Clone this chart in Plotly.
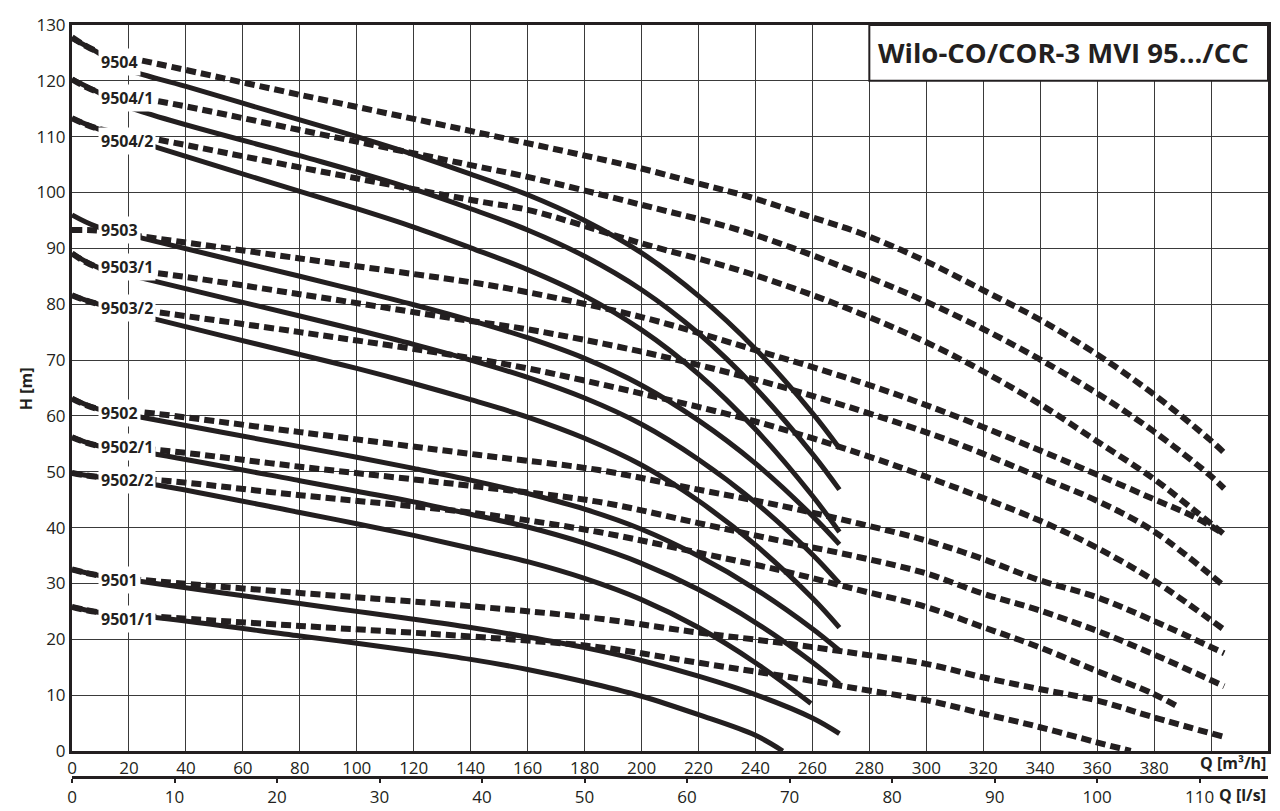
import plotly.graph_objects as go

# ---------------- data ----------------
MODELS = ["9504", "9504/1", "9504/2", "9503", "9503/1", "9503/2",
          "9502", "9502/1", "9502/2", "9501", "9501/1"]

# solid curves (Q in m3/h, H in m)
QS_9504 = [0, 8.7, 17, 40, 80, 100, 120, 140, 160, 180, 200, 220, 240, 260, 269.5]
HS_9504 = [127.6, 125.2, 122.5, 119.0, 113.0, 110.0, 106.8, 103.3, 99.6, 95.0, 89.2, 81.5, 72.0, 60.5, 54.2]
QS_9504_1 = [0, 8.7, 20.4, 80, 100, 120, 140, 160, 180, 200, 220, 240, 260, 269.5]
HS_9504_1 = [120.3, 118.1, 115.2, 106.6, 103.7, 100.6, 97.1, 93.3, 88.6, 82.6, 74.8, 65.0, 53.2, 46.8]
QS_9504_2 = [0, 8.7, 30.9, 80, 100, 120, 140, 160, 180, 200, 220, 240, 260, 269.5]
HS_9504_2 = [113.3, 111.5, 107.9, 100.2, 97.1, 93.8, 90.1, 86.2, 81.5, 75.4, 67.5, 57.6, 45.7, 39.2]
QS_9503 = [0, 8.7, 25, 80, 100, 120, 140, 160, 180, 200, 220, 240, 260, 269.5]
HS_9503 = [96.0, 93.9, 91.8, 85.0, 82.5, 79.9, 77.1, 74.0, 70.3, 65.5, 59.2, 51.5, 42.1, 37.0]
QS_9503_1 = [0, 8.7, 22.7, 80, 100, 120, 140, 160, 180, 200, 220, 240, 260, 269.5]
HS_9503_1 = [89.1, 86.7, 84.9, 77.9, 75.4, 72.8, 70.0, 66.9, 63.2, 58.5, 52.2, 44.5, 35.2, 30.0]
QS_9503_2 = [0, 8.7, 23.9, 80, 100, 120, 140, 160, 180, 200, 220, 240, 260, 269.5]
HS_9503_2 = [81.6, 80.1, 78.0, 71.0, 68.5, 65.8, 62.9, 59.8, 56.0, 51.2, 44.8, 36.9, 27.4, 22.1]
QS_9502 = [0, 8.7, 23.9, 80, 100, 120, 140, 160, 180, 200, 220, 240, 260, 269.5]
HS_9502 = [63.1, 61.3, 59.8, 54.5, 52.6, 50.6, 48.5, 46.1, 43.3, 39.7, 34.9, 29.0, 21.9, 18.0]
QS_9502_1 = [0, 8.7, 27.4, 80, 100, 120, 140, 160, 180, 200, 220, 240, 260, 269.5]
HS_9502_1 = [56.2, 54.7, 53.3, 48.4, 46.5, 44.6, 42.4, 40.1, 37.2, 33.6, 28.9, 23.0, 15.9, 12.0]
QS_9502_2 = [0, 8.7, 30.3, 80, 100, 120, 140, 160, 180, 200, 220, 240, 259.5]
HS_9502_2 = [49.8, 49.1, 47.6, 42.7, 40.7, 38.6, 36.3, 33.9, 30.9, 27.1, 22.1, 15.8, 8.5]
QS_9501 = [0, 8.7, 25, 80, 100, 120, 140, 160, 180, 200, 220, 240, 260, 269.5]
HS_9501 = [32.5, 31.5, 30.3, 26.4, 25.0, 23.6, 22.1, 20.4, 18.5, 16.2, 13.4, 10.1, 5.9, 3.1]
QS_9501_1 = [0, 8.7, 30.9, 80, 100, 120, 140, 160, 180, 200, 220, 240, 249.6]
HS_9501_1 = [25.8, 24.9, 23.8, 20.6, 19.3, 17.9, 16.4, 14.6, 12.4, 9.8, 6.5, 2.8, 0.0]

# dashed curves
QD_9504 = [0, 8.7, 24, 80, 142, 200, 220, 238, 259, 277, 299, 320, 340, 360, 379, 399, 404.6]
HD_9504 = [127.8, 125.3, 123.7, 117.5, 110.8, 104.3, 101.6, 99.2, 95.7, 92.7, 87.9, 82.5, 77.2, 71.0, 64.2, 56.0, 53.4]
QD_9504_1 = [0, 8.7, 30.9, 80, 143, 160, 200, 238, 276.5, 299.3, 319.8, 339.6, 359.5, 379.4, 399.3, 404.6]
HD_9504_1 = [120.3, 118.1, 116.3, 111.2, 104.6, 102.8, 97.8, 92.7, 85.5, 80.6, 75.6, 70.2, 64.2, 57.4, 49.5, 47.0]
QD_9504_2 = [0, 8.7, 30.9, 80, 143, 160, 200, 238, 276.5, 308, 339.6, 359.5, 379.4, 394.6, 404.6]
HD_9504_2 = [113.3, 111.5, 109.4, 104.5, 98.4, 96.9, 90.9, 85.5, 78.4, 71.2, 62.2, 55.6, 48.9, 42.9, 38.8]
QD_9503 = [0, 8.7, 25, 80, 143, 159.5, 200, 238, 276.5, 308, 340, 359.5, 379.4, 394.6, 404.6]
HD_9503 = [93.3, 93.2, 92.1, 88.2, 83.7, 82.2, 77.7, 72.1, 66.1, 60.4, 53.8, 49.6, 45.2, 41.8, 38.8]
QD_9503_1 = [0, 8.7, 30.9, 80, 136, 160, 200, 240, 276.5, 308, 339.6, 359.5, 379.4, 404.6]
HD_9503_1 = [89.1, 86.7, 85.5, 81.8, 77.3, 75.5, 71.5, 66.5, 61.0, 55.6, 49.1, 44.9, 39.5, 29.5]
QD_9503_2 = [0, 8.7, 29.7, 80, 136, 160, 200, 240, 276.5, 308, 339.6, 359.5, 380, 404.6]
HD_9503_2 = [81.6, 80.1, 78.6, 75.0, 70.7, 68.5, 64.0, 59.0, 53.3, 47.6, 41.3, 36.5, 30.5, 21.7]
QD_9502 = [0, 8.7, 23.9, 80, 143, 185, 220, 250, 276.5, 299.9, 319.8, 339.6, 359.5, 379.4, 404.6]
HD_9502 = [63.1, 61.3, 60.7, 57.1, 53.0, 50.3, 46.8, 43.8, 40.7, 37.7, 34.4, 30.6, 27.6, 23.4, 17.5]
QD_9502_1 = [0, 8.7, 30.3, 80, 143, 185, 220, 250, 276.5, 299.9, 319.8, 339.6, 359.5, 379.4, 404.6]
HD_9502_1 = [56.2, 54.7, 53.9, 50.9, 47.3, 44.6, 40.8, 37.5, 34.7, 31.8, 28.2, 25.2, 21.6, 17.4, 11.6]
QD_9502_2 = [0, 8.7, 30.3, 80, 143, 185, 220, 250, 276.5, 299.9, 319.8, 339.6, 359.5, 379.4, 388.8]
HD_9502_2 = [49.8, 49.1, 48.5, 45.8, 42.5, 39.2, 35.5, 32.2, 28.8, 25.8, 22.2, 18.6, 14.4, 10.3, 7.8]
QD_9501 = [0, 8.7, 25, 80, 143, 185, 220, 250, 276.5, 299.9, 319.8, 339.6, 359.5, 379.4, 404.6]
HD_9501 = [32.5, 31.5, 30.6, 28.3, 25.8, 23.7, 21.2, 19.3, 17.4, 15.6, 13.2, 11.1, 9.1, 6.1, 2.5]
QD_9501_1 = [0, 8.7, 30.9, 80, 143, 185, 220, 250, 276.5, 299.9, 319.8, 339.6, 359.5, 371.8]
HD_9501_1 = [25.8, 24.9, 24.0, 22.4, 20.4, 18.6, 15.8, 13.4, 11.1, 9.1, 6.7, 4.3, 1.6, 0.0]

# head level at which each curve label sits
LABEL_H = [123.4, 116.9, 109.2, 93.3, 86.6, 79.4, 60.5, 54.4, 48.5, 30.7, 23.7]
LABEL_Q = 9.3

Q_TICKS = list(range(0, 401, 20))
LS_TICKS = list(range(0, 111, 10))
H_TICKS = list(range(0, 131, 10))
TITLE = "Wilo-CO/COR-3 MVI 95.../CC"

SOLID = [(QS_9504, HS_9504), (QS_9504_1, HS_9504_1), (QS_9504_2, HS_9504_2),
         (QS_9503, HS_9503), (QS_9503_1, HS_9503_1), (QS_9503_2, HS_9503_2),
         (QS_9502, HS_9502), (QS_9502_1, HS_9502_1), (QS_9502_2, HS_9502_2),
         (QS_9501, HS_9501), (QS_9501_1, HS_9501_1)]
DASHED = [(QD_9504, HD_9504), (QD_9504_1, HD_9504_1), (QD_9504_2, HD_9504_2),
          (QD_9503, HD_9503), (QD_9503_1, HD_9503_1), (QD_9503_2, HD_9503_2),
          (QD_9502, HD_9502), (QD_9502_1, HD_9502_1), (QD_9502_2, HD_9502_2),
          (QD_9501, HD_9501), (QD_9501_1, HD_9501_1)]

# ---------------- figure ----------------
INK = "#231f20"
GRID = "#3a3a3a"
FONT = "Open Sans"

fig = go.Figure()
for name, (q, h) in zip(MODELS, DASHED):
    fig.add_trace(go.Scatter(x=q, y=h, mode="lines", name=name + " (dashed)",
                             line=dict(color=INK, width=6, dash="10px,5px",
                                       shape="spline", smoothing=1.0),
                             showlegend=False, hoverinfo="skip"))
for name, (q, h) in zip(MODELS, SOLID):
    fig.add_trace(go.Scatter(x=q, y=h, mode="lines", name=name,
                             line=dict(color=INK, width=5,
                                       shape="spline", smoothing=1.0),
                             showlegend=False, hoverinfo="skip"))

# invisible trace on the l/s axis so it is drawn
fig.add_trace(go.Scatter(x=[0, 420 / 3.6], y=[None, None], xaxis="x2", yaxis="y",
                         mode="lines", showlegend=False, hoverinfo="skip"))

for name, hy in zip(MODELS, LABEL_H):
    fig.add_annotation(x=LABEL_Q, y=hy, xref="x", yref="y", text="<b>%s</b>" % name,
                       showarrow=False, xanchor="left", yanchor="middle",
                       bgcolor="white", borderpad=2,
                       font=dict(family=FONT, size=16, color=INK))

# title box
fig.add_shape(type="rect", xref="x", yref="y", x0=280, x1=420, y0=120, y1=130,
              fillcolor="white", line=dict(color=INK, width=2), layer="above")
fig.add_annotation(x=282.5, y=125, xref="x", yref="y", text="<b>%s</b>" % TITLE,
                   showarrow=False, xanchor="left", yanchor="middle",
                   font=dict(family=FONT, size=27.5, color=INK))

# axis captions
fig.add_annotation(x=-0.0385, y=0.517, xref="paper", yref="paper", text="<b>H [m]</b>",
                   textangle=-90, showarrow=False, xanchor="center", yanchor="middle",
                   font=dict(family=FONT, size=16, color=INK))
fig.add_annotation(x=1.0, y=0.0186, xref="paper", yref="paper", text="<b>Q [m³/h]</b>",
                   showarrow=False, xanchor="right", yanchor="middle",
                   font=dict(family=FONT, size=16, color=INK))
fig.add_annotation(x=1.0, y=-0.024, xref="paper", yref="paper", text="<b>Q [l/s]</b>",
                   showarrow=False, xanchor="right", yanchor="middle",
                   font=dict(family=FONT, size=16, color=INK))

# page body has an 8px margin, so the figure is offset by 8px in the window
fig.update_layout(
    width=1264, height=803,
    margin=dict(l=64, r=4, t=17, b=34, autoexpand=False),
    paper_bgcolor="white", plot_bgcolor="white",
    font=dict(family=FONT, size=17, color=INK),
    xaxis=dict(range=[0, 420], tickvals=Q_TICKS,
               ticktext=[str(v) if v < 400 else "" for v in Q_TICKS],
               showgrid=True, gridcolor=GRID, gridwidth=1.2, zeroline=False,
               showline=True, linecolor=INK, linewidth=3, mirror=True,
               ticks="", anchor="y", tickfont=dict(size=17), automargin=False),
    xaxis2=dict(range=[0, 420 / 3.6], tickvals=LS_TICKS, overlaying="x",
                anchor="free", position=0, side="bottom", showgrid=False,
                zeroline=False, showline=True, linecolor=INK, linewidth=2.5,
                ticks="outside", ticklen=4, tickwidth=2, tickcolor=INK,
                tickfont=dict(size=17), automargin=False),
    yaxis=dict(range=[0, 130], domain=[0.0346, 1], tickvals=H_TICKS,
               showgrid=True, gridcolor=GRID, gridwidth=1.2, zeroline=False,
               showline=True, linecolor=INK, linewidth=3, mirror=True,
               ticks="", tickfont=dict(size=17), automargin=False),
)

fig.write_html("out.html")
